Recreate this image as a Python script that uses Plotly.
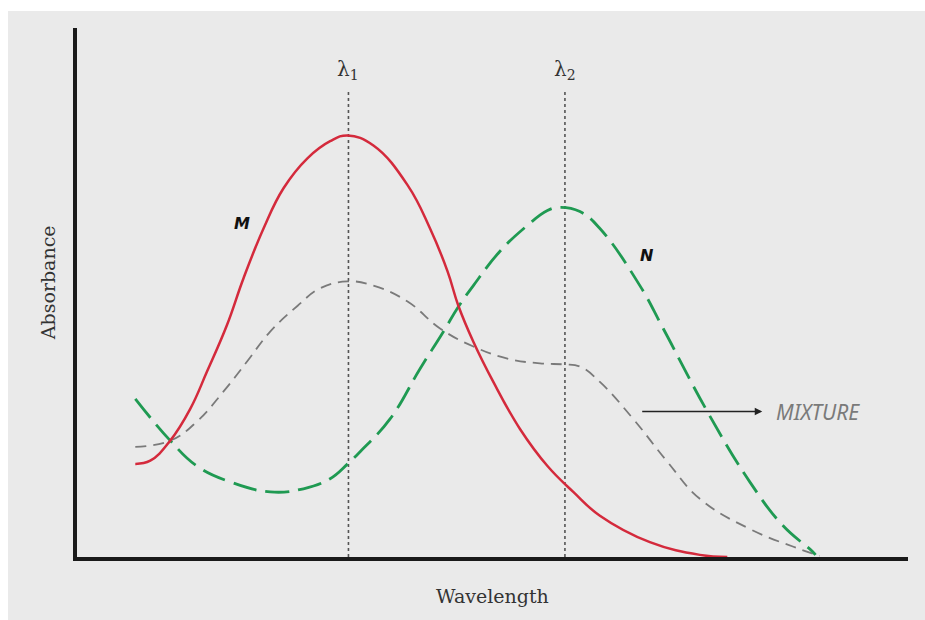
import plotly.graph_objects as go

# ---- data (arbitrary wavelength units, absorbance) ----
m_wavelength = [7.2, 9.0, 11.4, 13.8, 15.8, 18.2, 20.2, 22.6, 25.0, 27.9, 30.6, 32.7,
                35.8, 39.9, 42.6, 44.7, 46.0, 47.8, 50.2, 53.4, 56.7, 59.8, 63.0,
                69.0, 75.0, 78.3]
m_absorbance = [0.176, 0.182, 0.220, 0.280, 0.350, 0.438, 0.527, 0.621, 0.697, 0.754,
                0.786, 0.797, 0.778, 0.703, 0.621, 0.540, 0.475, 0.407, 0.331, 0.242,
                0.172, 0.123, 0.078, 0.028, 0.004, 0.0]

n_wavelength = [7.2, 11.4, 14.6, 18.6, 23.4, 27.4, 30.6, 32.7, 34.2, 37.8, 41.4, 44.2,
                46.0, 47.8, 51.0, 54.3, 56.7, 58.2, 60.6, 63.0, 67.8, 70.6, 75.9,
                81.0, 85.0, 88.5, 88.9]
n_absorbance = [0.299, 0.220, 0.172, 0.142, 0.123, 0.129, 0.148, 0.176, 0.199, 0.261,
                0.356, 0.426, 0.473, 0.513, 0.578, 0.627, 0.655, 0.661, 0.653, 0.621,
                0.513, 0.432, 0.275, 0.142, 0.059, 0.011, 0.004]

mix_wavelength = [7.2, 11.4, 14.6, 17.8, 20.6, 23.4, 26.7, 29.4, 32.7, 35.8, 39.9,
                  43.8, 47.8, 51.9, 55.8, 58.7, 60.6, 63.0, 67.0, 71.1, 75.0, 81.0,
                  87.0, 89.4]
mix_absorbance = [0.208, 0.220, 0.256, 0.313, 0.369, 0.426, 0.475, 0.508, 0.521, 0.513,
                  0.483, 0.432, 0.398, 0.375, 0.366, 0.364, 0.360, 0.331, 0.261, 0.180,
                  0.110, 0.053, 0.015, 0.002]

lambda_positions = [32.8, 58.8]
lambda_labels = ["λ<sub>1</sub>", "λ<sub>2</sub>"]
lambda_line_top = 0.88

BG = "#eaeaea"
SERIF = "DejaVu Serif"

fig = go.Figure()

# vertical dotted reference lines
for xv in lambda_positions:
    fig.add_trace(go.Scatter(x=[xv, xv], y=[0, lambda_line_top], mode="lines",
                             line=dict(color="#555555", width=1.6, dash="3px,3px"),
                             hoverinfo="skip", showlegend=False, cliponaxis=False))

fig.add_trace(go.Scatter(x=mix_wavelength, y=mix_absorbance, mode="lines", name="Mixture",
                         line=dict(color="#7a7a7a", width=1.8, dash="11px,7px",
                                   shape="spline", smoothing=1.2),
                         showlegend=False))
fig.add_trace(go.Scatter(x=n_wavelength, y=n_absorbance, mode="lines", name="N",
                         line=dict(color="#1f9a52", width=2.8, dash="24px,9px",
                                   shape="spline", smoothing=1.2),
                         showlegend=False))
fig.add_trace(go.Scatter(x=m_wavelength, y=m_absorbance, mode="lines", name="M",
                         line=dict(color="#d42a3c", width=2.5,
                                   shape="spline", smoothing=1.2),
                         showlegend=False))

annotations = []
for xv, lab in zip(lambda_positions, lambda_labels):
    annotations.append(dict(x=xv, y=0.92, xref="x", yref="y", text=lab, showarrow=False,
                            font=dict(family=SERIF, size=20, color="#333333")))

annotations += [
    dict(x=20.0, y=0.631, xref="x", yref="y", text="<b><i>M</i></b>", showarrow=False,
         font=dict(family="DejaVu Sans", size=16, color="#111111")),
    dict(x=68.7, y=0.570, xref="x", yref="y", text="<b><i>N</i></b>", showarrow=False,
         font=dict(family="DejaVu Sans", size=16, color="#111111")),
    dict(x=82.5, y=0.275, ax=67.9, ay=0.275, xref="x", yref="y", axref="x", ayref="y",
         text="", showarrow=True, arrowhead=2, arrowsize=1, arrowwidth=1.5,
         arrowcolor="#222222"),
    dict(x=83.9, y=0.275, xref="x", yref="y", text="<i>MIXTURE</i>", showarrow=False,
         xanchor="left", font=dict(family="Noto Sans", size=21, color="#7a7a7a")),
    dict(x=-0.034, y=0.519, xref="paper", yref="paper", text="Absorbance", showarrow=False,
         textangle=-90, xanchor="center", yanchor="middle",
         font=dict(family=SERIF, size=19, color="#333333")),
    dict(x=0.5, y=-0.073, xref="paper", yref="paper", text="Wavelength", showarrow=False,
         xanchor="center", yanchor="middle",
         font=dict(family=SERIF, size=19, color="#333333")),
]

shapes = [
    dict(type="rect", xref="paper", yref="paper", x0=-0.2, x1=1.2, y0=1.032, y1=1.2,
         fillcolor="white", line=dict(width=0), layer="below"),
    dict(type="rect", xref="paper", yref="paper", x0=-0.2, x1=-0.083, y0=-0.2, y1=1.2,
         fillcolor="white", line=dict(width=0), layer="below"),
]

fig.update_layout(
    width=925, height=620,
    margin=dict(l=77, r=17, t=28, b=63),
    paper_bgcolor=BG, plot_bgcolor=BG,
    annotations=annotations, shapes=shapes,
    xaxis=dict(range=[0.2, 100], showgrid=False, zeroline=False, showticklabels=False,
               ticks="", showline=True, linecolor="#1a1a1a", linewidth=4),
    yaxis=dict(range=[0, 1.0], showgrid=False, zeroline=False, showticklabels=False,
               ticks="", showline=True, linecolor="#1a1a1a", linewidth=4),
    showlegend=False,
)

fig.write_html(
    "out.html",
    config={"displayModeBar": False},
    post_script=("document.body.style.margin='0';document.body.style.overflow='hidden';"
                 "document.body.style.background='" + BG + "';"
                 "document.documentElement.style.background='" + BG + "';"),
)
